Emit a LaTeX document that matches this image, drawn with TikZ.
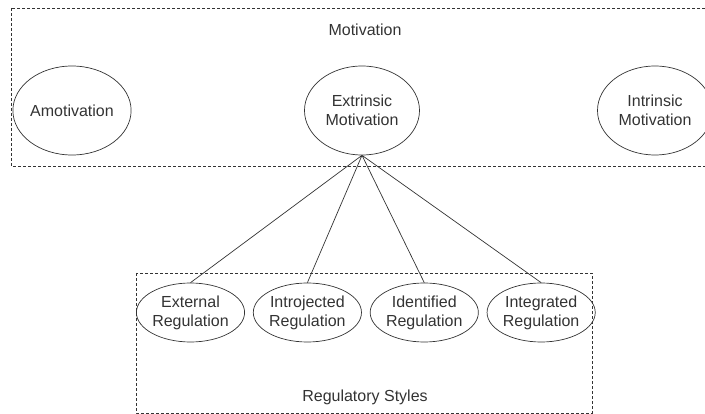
\documentclass[tikz,border=0pt]{standalone}
\usepackage{fontspec}
\setmainfont{Liberation Sans}
\usetikzlibrary{
    shapes.geometric,
    positioning
}

\begin{document}
\begin{tikzpicture}[x=1pt, y=-1pt, line width=0.7pt, color=black!80,
        font=\fontsize{16}{19}\selectfont,
        motiv/.style={ellipse, draw, minimum width=115pt, minimum height=89pt, inner sep=0pt, align=center},
        regul/.style={ellipse, draw, minimum width=107pt, minimum height=59pt, inner sep=0pt, align=center},
        frame/.style={draw, dash pattern=on 3pt off 2pt}]
    \clip (0, 0) rectangle (705, 414);
    % motivation frame
    \draw[frame] (11, 8) rectangle (720, 166);
    \node (motlabel) at (365, 30) {Motivation};
    \node[motiv] (amot) at (72, 110.5) {Amotivation};
    \node[motiv] (extr) at (362, 110.5) {Extrinsic\\Motivation};
    \node[motiv] (intr) at (655, 110.5) {Intrinsic\\Motivation};
    % regulatory styles frame
    \draw[frame] (136, 273) rectangle (592, 413);
    \node (reglabel) at (365, 397) {Regulatory Styles};
    \node[regul] (exreg) at (190.5, 312.5) {External\\Regulation};
    \node[regul, right=8pt of exreg] (inreg) {Introjected\\Regulation};
    \node[regul, right=8pt of inreg] (idreg) {Identified\\Regulation};
    \node[regul, right=8pt of idreg] (igreg) {Integrated\\Regulation};
    \draw (extr.south) -- (exreg.north) (extr.south) -- (inreg.north)
          (extr.south) -- (idreg.north) (extr.south) -- (igreg.north);
\end{tikzpicture}
\end{document}
